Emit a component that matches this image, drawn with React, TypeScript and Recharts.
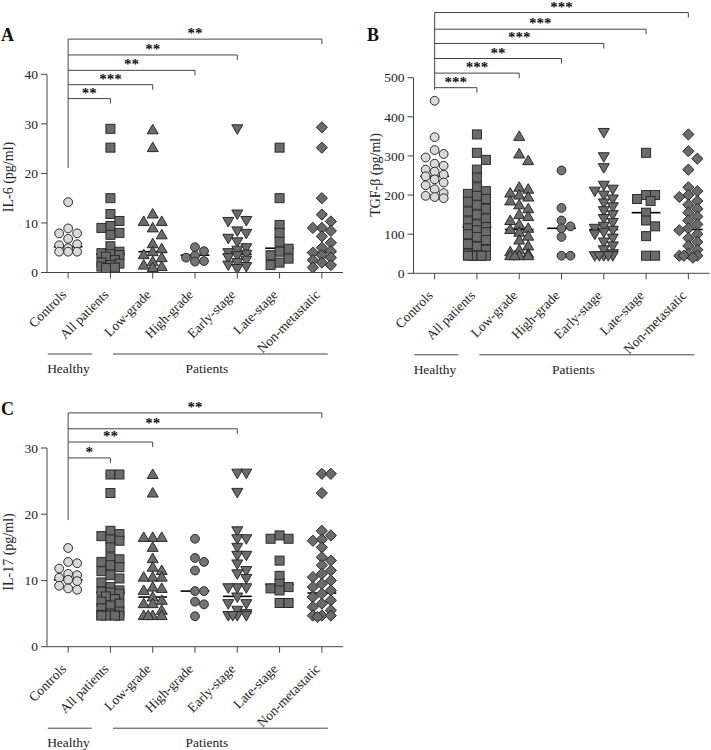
import React from 'react';
import { ScatterChart, Scatter, XAxis, YAxis, ReferenceLine } from 'recharts';

const SERIF = "'Liberation Serif', 'Times New Roman', serif";

// ---------- shared ----------
const categories = ['Controls', 'All patients', 'Low-grade', 'High-grade', 'Early-stage', 'Late-stage', 'Non-metastatic'];
const groupShapes = ['circle', 'square', 'triangle', 'circle', 'invtriangle', 'square', 'diamond'];
const groupFills = ['#d9d9d9', '#6b6b6b', '#6b6b6b', '#747474', '#6b6b6b', '#6b6b6b', '#6b6b6b'];
const groupLabels = ['Healthy', 'Patients'];

// ---------- Panel A: IL-6 ----------
const il6Controls = [14.2, 8.9, 7.9, 7.9, 6.8, 5.7, 5.5, 4.9, 4.2, 4.2, 4.2];
const il6All = [29, 25.2, 15, 11.8, 10.4, 9.4, 9.0, 8.0, 7.6, 5.3, 4.2, 3.9, 3.7, 3.5, 3.2, 2.5, 2.0, 1.8, 1.5, 1.2, 1.0, 0.9];
const il6Low = [28.8, 25.2, 11.8, 10.3, 10.3, 9.0, 7.6, 5.8, 4.8, 4.2, 3.6, 3.0, 2.2, 1.5, 1.2, 1.0];
const il6High = [5.1, 4.3, 3.4, 3.0, 2.3, 2.2];
const il6Early = [29, 11.8, 10.5, 10.3, 8.4, 7.9, 6.9, 6.2, 5.0, 4.5, 4.0, 3.7, 3.4, 3.0, 2.5, 2.0, 1.5, 1.2, 0.8];
const il6Late = [25.2, 15, 9.6, 8.0, 6.2, 4.8, 4.2, 3.5, 2.8, 2.0, 1.5];
const il6Non = [29.3, 25.2, 15, 11.7, 10.3, 9.0, 9.0, 8.4, 7.3, 6.0, 5.0, 4.3, 4.0, 3.5, 3.0, 2.5, 2.0, 1.5, 1.0];
const il6Medians = [5.2, 3.7, 4.2, 3.5, 3.7, 4.9, 4.1];
const il6Ticks = [0, 10, 20, 30, 40];
const il6CompTargets = [1, 2, 3, 4, 6];
const il6CompStars = ['**', '***', '**', '**', '**'];
const il6CompLevels = [35.1, 37.9, 40.8, 43.9, 47.1];
const il6BracketBase = 21.1;

// ---------- Panel B: TGF-beta ----------
const tgfControls = [441, 348, 315, 305, 296, 280, 275, 265, 260, 252, 248, 240, 232, 225, 215, 205, 198, 195, 192];
const tgfAll = [355, 308, 290, 265, 245, 220, 210, 203, 198, 190, 183, 175, 165, 158, 150, 140, 133, 125, 118, 115, 110, 105, 100, 93, 85, 75, 68, 60, 50, 45, 45, 45, 45, 45];
const tgfLow = [350, 305, 288, 220, 215, 205, 200, 195, 185, 175, 165, 150, 145, 135, 125, 115, 112, 105, 95, 85, 70, 60, 55, 50, 45, 45, 45, 45];
const tgfHigh = [263, 167, 135, 120, 115, 93, 45, 45];
const tgfEarly = [360, 298, 270, 225, 215, 210, 200, 190, 180, 170, 160, 150, 140, 130, 120, 115, 110, 105, 100, 90, 80, 70, 60, 50, 45, 45, 45, 45, 45];
const tgfLate = [308, 200, 200, 190, 185, 155, 135, 120, 95, 45, 45];
const tgfNon = [355, 312, 293, 265, 220, 210, 200, 195, 185, 175, 165, 155, 145, 135, 125, 115, 110, 100, 90, 80, 70, 60, 50, 45, 45, 45, 40];
const tgfMedians = [248, 118, 112, 115, 112, 155, 112];
const tgfTicks = [0, 100, 200, 300, 400, 500];
const tgfCompTargets = [1, 2, 3, 4, 5, 6];
const tgfCompStars = ['***', '***', '**', '***', '***', '***'];
const tgfCompLevels = [474.5, 511.7, 549, 587.5, 624, 666.6];
const tgfBracketBase = 469;

// ---------- Panel C: IL-17 ----------
const il17Controls = [14.9, 12.8, 12.6, 11.8, 11.0, 10.8, 10.4, 10.1, 9.9, 9.2, 8.8, 8.6];
const il17All = [26, 26, 23.2, 17.5, 17.0, 16.7, 16.2, 16.0, 15.0, 13.5, 13.2, 12.8, 12.3, 12.0, 11.4, 10.8, 10.3, 9.7, 9.0, 8.5, 8.3, 8.2, 8.0, 7.6, 7.2, 6.8, 6.5, 6.2, 5.8, 5.3, 5.0, 4.8, 4.7, 4.7, 4.7, 4.7];
const il17Low = [26, 23.2, 16.5, 16.5, 16.5, 15.0, 13.3, 12.0, 11.5, 10.5, 10.5, 10.5, 9.0, 8.8, 8.5, 7.5, 7.0, 6.5, 6.5, 5.5, 4.7, 4.7, 4.7, 4.7];
const il17High = [16.3, 13.4, 12.8, 11.5, 8.4, 8.4, 6.8, 6.4, 4.6];
const il17Early = [26.2, 26.2, 23.3, 17.5, 16.3, 16.3, 15.0, 13.8, 13.8, 12.5, 11.5, 11.0, 10.3, 8.9, 8.9, 8.9, 7.5, 6.5, 6.5, 5.5, 5.0, 4.7, 4.7, 4.7, 4.7];
const il17Late = [16.8, 16.3, 16.3, 13.0, 10.7, 9.5, 9.0, 8.8, 8.5, 6.6, 6.6];
const il17Non = [26.1, 26.1, 23.2, 17.5, 16.8, 16.2, 16.0, 15.0, 13.5, 13.0, 12.3, 11.5, 11.0, 10.5, 10.0, 9.5, 9.0, 8.5, 8.0, 7.5, 7.0, 6.5, 6.0, 5.5, 4.7, 4.7, 4.7, 4.5];
const il17Medians = [10.1, 8.2, 7.5, 8.4, 7.6, 9.4, 8.1];
const il17Ticks = [0, 10, 20, 30];
const il17CompTargets = [1, 2, 4, 6];
const il17CompStars = ['*', '**', '**', '**'];
const il17CompLevels = [28.5, 30.9, 32.9, 35.3];
const il17BracketBase = 19.1;

// ---------- layout helpers ----------
const Y_W = 40;
const X_H = 80;
const AXIS = '#444';

type Pt = { x: number; y: number };

// deterministic beeswarm spread of overlapping points (pixel-based collision)
function swarm(values: number[], group: number, ppu: number, ppc: number): Pt[] {
  const thr = 7.5;
  const step = 4.5;
  const cands: number[] = [0];
  for (let k = 1; k <= 2; k++) cands.push(k * step, -k * step);
  const placed: { py: number; off: number }[] = [];
  const sorted = [...values].sort((a, b) => b - a);
  return sorted.map((v) => {
    const py = v * ppu;
    let best = 0;
    let bestScore = Infinity;
    for (const c of cands) {
      let score = 0;
      for (const p of placed) {
        const dx = Math.abs(p.off - c);
        const dy = Math.abs(p.py - py);
        if (dx < thr && dy < thr) score += (thr - dx) * (thr - dy);
      }
      if (score < bestScore - 1e-9) {
        bestScore = score;
        best = c;
      }
    }
    placed.push({ py, off: best });
    return { x: group + best / ppc, y: v };
  });
}

const makeShape = (kind: string, fill: string) => (props: any) => {
  const { cx, cy } = props;
  if (cx == null || cy == null) return <g />;
  const common = { fill, stroke: '#2a2a2a', strokeWidth: 1 };
  switch (kind) {
    case 'circle':
      return <circle cx={cx} cy={cy} r={4.4} {...common} />;
    case 'square':
      return <rect x={cx - 4.5} y={cy - 4.5} width={9} height={9} {...common} />;
    case 'triangle':
      return <path d={`M${cx},${cy - 5.5}L${cx + 5.5},${cy + 4}L${cx - 5.5},${cy + 4}Z`} {...common} />;
    case 'invtriangle':
      return <path d={`M${cx - 5.5},${cy - 4}L${cx + 5.5},${cy - 4}L${cx},${cy + 5.5}Z`} {...common} />;
    default:
      return <path d={`M${cx},${cy - 5.6}L${cx + 5.6},${cy}L${cx},${cy + 5.6}L${cx - 5.6},${cy}Z`} {...common} />;
  }
};

const CatTick = (props: any) => {
  const { x, y, payload } = props;
  return (
    <text
      transform={`translate(${x - 1},${y + 15}) rotate(-45)`}
      textAnchor="end"
      fontSize={13.5}
      fontFamily={SERIF}
      fill="#222"
    >
      {categories[payload.value]}
    </text>
  );
};

const starContent = (text: string) => (p: any) => {
  const vb = p.viewBox || {};
  return (
    <text
      x={vb.x + vb.width / 2}
      y={vb.y - 1}
      textAnchor="middle"
      fontSize={15}
      fontWeight="bold"
      fontFamily={SERIF}
      fill="#111"
    >
      {text}
    </text>
  );
};

const groupContent = (text: string, frac: number) => (p: any) => {
  const vb = p.viewBox || {};
  return (
    <text x={vb.x + vb.width * frac} y={vb.y + 19} textAnchor="middle" fontSize={13.5} fontFamily={SERIF} fill="#222">
      {text}
    </text>
  );
};

interface PanelCfg {
  left: number;
  top: number;
  width: number;
  height: number;
  margin: { top: number; right: number; bottom: number; left: number };
  yMax: number;
  ticks: number[];
  groups: number[][];
  medians: number[];
  targets: number[];
  stars: string[];
  levels: number[];
  base: number;
}

function Panel({ cfg }: { cfg: PanelCfg }) {
  const plotW = cfg.width - cfg.margin.left - cfg.margin.right - Y_W;
  const plotH = cfg.height - cfg.margin.top - cfg.margin.bottom - X_H;
  const ppu = plotH / cfg.yMax;
  const ppc = plotW / categories.length;
  const drop = 5 / ppu;
  const groupLevel = -81.5 / ppu;

  const scatters = cfg.groups.map((vals, g) => (
    <Scatter
      key={`s${g}`}
      data={swarm(vals, g, ppu, ppc)}
      dataKey="y"
      shape={makeShape(groupShapes[g], groupFills[g])}
      isAnimationActive={false}
    />
  ));

  const medianLines = cfg.medians.map((m, g) => (
    <ReferenceLine
      key={`m${g}`}
      segment={[{ x: g - 0.34, y: m }, { x: g + 0.34, y: m }]}
      stroke="#000"
      strokeWidth={1.6}
      ifOverflow="visible"
    />
  ));

  const topLevel = Math.max(...cfg.levels);
  const brackets: any[] = [
    <ReferenceLine
      key="bv"
      segment={[{ x: 0, y: topLevel }, { x: 0, y: cfg.base }]}
      stroke={AXIS}
      strokeWidth={1}
      ifOverflow="visible"
    />,
  ];
  cfg.targets.forEach((t, i) => {
    const lv = cfg.levels[i];
    brackets.push(
      <ReferenceLine
        key={`bh${i}`}
        segment={[{ x: 0, y: lv }, { x: t, y: lv }]}
        stroke={AXIS}
        strokeWidth={1}
        ifOverflow="visible"
        label={starContent(cfg.stars[i])}
      />,
      <ReferenceLine
        key={`bd${i}`}
        segment={[{ x: t, y: lv }, { x: t, y: lv - drop }]}
        stroke={AXIS}
        strokeWidth={1}
        ifOverflow="visible"
      />
    );
  });

  const groupLines = [
    <ReferenceLine
      key="gh"
      segment={[{ x: -0.48, y: groupLevel }, { x: 0.56, y: groupLevel }]}
      stroke={AXIS}
      strokeWidth={1}
      ifOverflow="visible"
      label={groupContent(groupLabels[0], 0.47)}
    />,
    <ReferenceLine
      key="gp"
      segment={[{ x: 1.06, y: groupLevel }, { x: 6.14, y: groupLevel }]}
      stroke={AXIS}
      strokeWidth={1}
      ifOverflow="visible"
      label={groupContent(groupLabels[1], 0.437)}
    />,
  ];

  return (
    <div style={{ position: 'absolute', left: cfg.left, top: cfg.top }}>
      <ScatterChart width={cfg.width} height={cfg.height} margin={cfg.margin}>
        <XAxis
          type="number"
          dataKey="x"
          domain={[-0.5, 6.5]}
          ticks={[0, 1, 2, 3, 4, 5, 6]}
          interval={0}
          tick={<CatTick />}
          tickSize={6}
          height={X_H}
          stroke={AXIS}
          allowDataOverflow
        />
        <YAxis
          type="number"
          dataKey="y"
          domain={[0, cfg.yMax]}
          ticks={cfg.ticks}
          interval={0}
          width={Y_W}
          tickSize={6}
          tickMargin={3}
          stroke={AXIS}
          tick={{ fontSize: 13.5, fontFamily: SERIF, fill: '#222' }}
          allowDataOverflow
        />
        {scatters}
        {medianLines}
        {brackets}
        {groupLines}
      </ScatterChart>
    </div>
  );
}

const panelA: PanelCfg = {
  left: 0,
  top: 0,
  width: 355,
  height: 385,
  margin: { top: 74.3, right: 12, bottom: 32.5, left: 7 },
  yMax: 40,
  ticks: il6Ticks,
  groups: [il6Controls, il6All, il6Low, il6High, il6Early, il6Late, il6Non],
  medians: il6Medians,
  targets: il6CompTargets,
  stars: il6CompStars,
  levels: il6CompLevels,
  base: il6BracketBase,
};

const panelB: PanelCfg = {
  left: 355,
  top: 0,
  width: 356,
  height: 385,
  margin: { top: 77.7, right: 1.5, bottom: 31.7, left: 18.5 },
  yMax: 500,
  ticks: tgfTicks,
  groups: [tgfControls, tgfAll, tgfLow, tgfHigh, tgfEarly, tgfLate, tgfNon],
  medians: tgfMedians,
  targets: tgfCompTargets,
  stars: tgfCompStars,
  levels: tgfCompLevels,
  base: tgfBracketBase,
};

const panelC: PanelCfg = {
  left: 0,
  top: 375,
  width: 355,
  height: 375,
  margin: { top: 73, right: 12, bottom: 23.3, left: 7 },
  yMax: 30,
  ticks: il17Ticks,
  groups: [il17Controls, il17All, il17Low, il17High, il17Early, il17Late, il17Non],
  medians: il17Medians,
  targets: il17CompTargets,
  stars: il17CompStars,
  levels: il17CompLevels,
  base: il17BracketBase,
};

export default function App() {
  return (
    <div style={{ position: 'absolute', left: 0, top: 0, width: 711, height: 750, background: '#fff', overflow: 'hidden' }}>
      <Panel cfg={panelA} />
      <Panel cfg={panelB} />
      <Panel cfg={panelC} />
      <svg width={711} height={750} style={{ position: 'absolute', left: 0, top: 0, pointerEvents: 'none' }}>
        <g fontFamily={SERIF} fill="#111">
          <text x={1} y={41} fontSize={18} fontWeight="bold">A</text>
          <text x={367} y={41} fontSize={18} fontWeight="bold">B</text>
          <text x={1} y={415} fontSize={18} fontWeight="bold">C</text>
        </g>
        <g fontFamily={SERIF} fill="#222" fontSize={14} textAnchor="middle">
          <text transform="translate(13,177) rotate(-90)">IL-6 (pg/ml)</text>
          <text transform="translate(380,175) rotate(-90)">TGF-β (pg/ml)</text>
          <text transform="translate(13,552) rotate(-90)">IL-17 (pg/ml)</text>
        </g>
      </svg>
    </div>
  );
}
